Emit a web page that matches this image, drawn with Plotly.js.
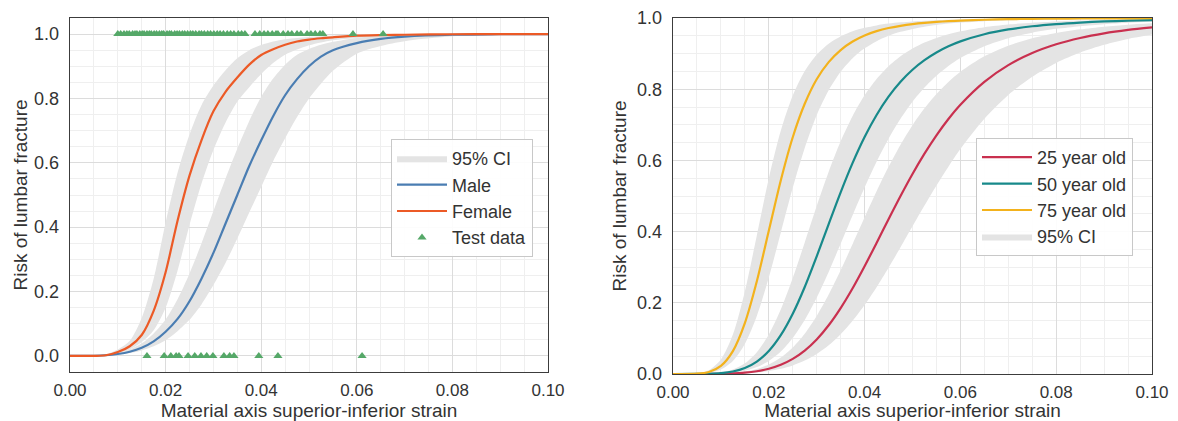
<!DOCTYPE html>
<html>
<head>
<meta charset="utf-8">
<script src="https://cdn.plot.ly/plotly-3.0.1.min.js"></script>
<style>
  html, body { margin: 0; padding: 0; background: #ffffff; }
  #chart { width: 1178px; height: 421px; }
</style>
</head>
<body>
<div id="chart"></div>
<script>
// ---------- Left panel: risk curves by sex ----------
const strainSex = [0, 0.005, 0.0075, 0.01, 0.0125, 0.015, 0.0175, 0.02, 0.0225, 0.025, 0.0275,
  0.03, 0.0325, 0.035, 0.0375, 0.04, 0.0425, 0.045, 0.0475, 0.05, 0.0525, 0.055,
  0.06, 0.065, 0.07, 0.08, 0.09, 0.1];

const maleRisk = [0, 0.0003, 0.002, 0.006, 0.013, 0.025, 0.045, 0.075, 0.115, 0.17, 0.24,
  0.32, 0.41, 0.50, 0.59, 0.67, 0.745, 0.81, 0.86, 0.90, 0.93, 0.95,
  0.972, 0.985, 0.992, 0.998, 0.9995, 1.0];
const maleUpper = [0, 0.0006, 0.004, 0.009, 0.02, 0.039, 0.07, 0.113, 0.176, 0.256, 0.349,
  0.45, 0.55, 0.644, 0.73, 0.805, 0.862, 0.905, 0.936, 0.954, 0.967, 0.976,
  0.988, 0.994, 0.997, 0.9995, 1.0, 1.0];
const maleLower = [0, 0.0002, 0.001, 0.0043, 0.009, 0.017, 0.03, 0.049, 0.077, 0.112, 0.16,
  0.22, 0.288, 0.365, 0.446, 0.525, 0.605, 0.676, 0.742, 0.80, 0.846, 0.886,
  0.939, 0.963, 0.978, 0.993, 0.998, 0.9995];

const femaleRisk = [0, 0.0002, 0.002, 0.012, 0.03, 0.065, 0.14, 0.26, 0.42, 0.56, 0.67,
  0.76, 0.82, 0.865, 0.905, 0.935, 0.953, 0.967, 0.977, 0.983, 0.987, 0.99,
  0.995, 0.997, 0.998, 0.9995, 0.9998, 1.0];
const femaleUpper = [0, 0.0006, 0.005, 0.02, 0.047, 0.118, 0.24, 0.414, 0.569, 0.688, 0.779,
  0.84, 0.887, 0.925, 0.95, 0.966, 0.977, 0.984, 0.988, 0.991, 0.9935, 0.9955,
  0.9975, 0.998, 0.999, 1.0, 1.0, 1.0];
const femaleLower = [0, 0.0001, 0.0012, 0.007, 0.02, 0.043, 0.08, 0.15, 0.265, 0.407, 0.535,
  0.64, 0.724, 0.79, 0.835, 0.876, 0.91, 0.936, 0.952, 0.965, 0.974, 0.981,
  0.988, 0.993, 0.996, 0.998, 0.999, 0.9995];

// Test specimens: strain of those that fractured (1) and those that did not (0)
const fracturedStrain = [0.0100, 0.0106, 0.0113, 0.0119, 0.0124, 0.0131, 0.0136, 0.0140, 0.0146,
  0.0151, 0.0155, 0.0161, 0.0166, 0.0170, 0.0176, 0.0181, 0.0187, 0.0192, 0.0196, 0.0203,
  0.0208, 0.0212, 0.0219, 0.0224, 0.0229, 0.0235, 0.0240, 0.0246, 0.0252, 0.0257, 0.0263,
  0.0270, 0.0275, 0.0281, 0.0288, 0.0294, 0.0301, 0.0308, 0.0314, 0.0321, 0.0329, 0.0336,
  0.0343, 0.0352, 0.0359, 0.0366,
  0.0387, 0.0397, 0.0406, 0.0414, 0.0423, 0.0431, 0.0435, 0.0446,
  0.0456, 0.0464, 0.0475, 0.0483, 0.0496, 0.0504, 0.0513, 0.0523, 0.0529,
  0.0592, 0.0655];
const intactStrain = [0.0161, 0.0197, 0.0211, 0.0222, 0.0228, 0.0247, 0.0261, 0.0274, 0.0286,
  0.0299, 0.0322, 0.0334, 0.0343, 0.0395, 0.0435, 0.0611];

// ---------- Right panel: risk curves by age ----------
const strainAge = [0, 0.005, 0.0075, 0.01, 0.0125, 0.015, 0.0175, 0.02, 0.0225, 0.025, 0.0275,
  0.03, 0.0325, 0.035, 0.0375, 0.04, 0.0425, 0.045, 0.0475, 0.05, 0.0525, 0.055, 0.0575,
  0.06, 0.065, 0.07, 0.075, 0.08, 0.085, 0.09, 0.095, 0.1];

const risk25 = [0, 0.00002, 0.0001, 0.0005, 0.0015, 0.0037, 0.0078, 0.0148, 0.026, 0.0426, 0.0659,
  0.0972, 0.137, 0.1853, 0.241, 0.3028, 0.3682, 0.4348, 0.5, 0.5619, 0.619, 0.6706, 0.7164,
  0.7564, 0.8207, 0.8676, 0.9016, 0.9261, 0.9439, 0.9569, 0.9665, 0.9737];
const upper25 = [0, 0.00003, 0.0002, 0.001, 0.0028, 0.0067, 0.014, 0.0265, 0.046, 0.0745, 0.1133,
  0.163, 0.223, 0.2915, 0.3649, 0.44, 0.5132, 0.582, 0.6441, 0.6989, 0.7462, 0.7865, 0.8204,
  0.8489, 0.8923, 0.9222, 0.9431, 0.9578, 0.9681, 0.9757, 0.9812, 0.9853];
const lower25 = [0, 0.00001, 0.00007, 0.0003, 0.0009, 0.0021, 0.0044, 0.0083, 0.0145, 0.024, 0.0376,
  0.0561, 0.0806, 0.1116, 0.1493, 0.1935, 0.2436, 0.2984, 0.3559, 0.4148, 0.4731, 0.5295, 0.5825,
  0.6318, 0.7167, 0.7837, 0.835, 0.8738, 0.9028, 0.9246, 0.941, 0.9534];

const risk50 = [0, 0.00008, 0.0006, 0.0024, 0.007, 0.0168, 0.0349, 0.0646, 0.109, 0.1693, 0.2445,
  0.3305, 0.4212, 0.5104, 0.593, 0.6658, 0.7277, 0.7791, 0.821, 0.8547, 0.8816, 0.9032, 0.9205,
  0.9344, 0.9545, 0.9678, 0.9768, 0.9829, 0.9872, 0.9903, 0.9925, 0.9941];
const upper50 = [0, 0.00015, 0.0011, 0.0043, 0.0126, 0.03, 0.0614, 0.1111, 0.1813, 0.2696, 0.3693,
  0.4718, 0.5683, 0.6536, 0.7249, 0.7828, 0.8287, 0.8646, 0.8925, 0.9141, 0.931, 0.9441, 0.9545,
  0.9627, 0.9743, 0.9819, 0.987, 0.9905, 0.9929, 0.9946, 0.9958, 0.9967];
const lower50 = [0, 0.00005, 0.0003, 0.0013, 0.0039, 0.0094, 0.0196, 0.0368, 0.0633, 0.1013, 0.1518,
  0.2143, 0.2868, 0.3656, 0.446, 0.524, 0.5963, 0.661, 0.7171, 0.7648, 0.8045, 0.8377, 0.8649,
  0.8873, 0.9206, 0.9432, 0.9587, 0.9695, 0.9771, 0.9825, 0.9865, 0.9894];

const risk75 = [0, 0.0008, 0.0057, 0.0228, 0.0644, 0.1429, 0.2604, 0.4023, 0.5438, 0.665, 0.759,
  0.828, 0.876, 0.91, 0.934, 0.951, 0.963, 0.9718, 0.9781, 0.9829, 0.9864, 0.9891, 0.9912,
  0.9928, 0.9951, 0.9966, 0.9976, 0.9982, 0.9987, 0.999, 0.9992, 0.9994];
const upper75 = [0, 0.0015, 0.0103, 0.0405, 0.1108, 0.2318, 0.389, 0.549, 0.683, 0.782, 0.851,
  0.897, 0.928, 0.948, 0.9626, 0.9723, 0.9792, 0.9842, 0.9878, 0.9905, 0.9925, 0.994, 0.9951,
  0.996, 0.9973, 0.9981, 0.9987, 0.999, 0.9993, 0.9994, 0.9996, 0.9997];
const lower75 = [0, 0.0005, 0.0032, 0.0127, 0.0367, 0.0844, 0.163, 0.271, 0.397, 0.523, 0.635,
  0.727, 0.797, 0.849, 0.887, 0.9147, 0.935, 0.95, 0.9611, 0.9694, 0.9757, 0.9805, 0.9842,
  0.9871, 0.9912, 0.9939, 0.9956, 0.9968, 0.9976, 0.9982, 0.9986, 0.9989];

const tickStrain = [0, 0.02, 0.04, 0.06, 0.08, 0.1];
const tickRisk = [0, 0.2, 0.4, 0.6, 0.8, 1.0];

// ---------- styling ----------
const BAND = '#e4e4e4';
const C_MALE = '#4a7db2', C_FEMALE = '#ec5a26', C_TEST = '#55a868';
const C_25 = '#c9304f', C_50 = '#17898a', C_75 = '#f3b21c';
const FONT = 'Liberation Sans, Arial, sans-serif';
const TXT = '#333333';

function band(x, lo, hi, xa, ya, name, showLegend, legend, rank) {
  return [
    { x: x, y: lo, xaxis: xa, yaxis: ya, type: 'scatter', mode: 'lines',
      line: { width: 0, shape: 'spline', smoothing: 0.8 }, hoverinfo: 'skip', showlegend: false },
    { x: x, y: hi, xaxis: xa, yaxis: ya, type: 'scatter', mode: 'lines', fill: 'tonexty',
      fillcolor: BAND, line: { width: 0, shape: 'spline', smoothing: 0.8 },
      name: name, showlegend: showLegend, legend: legend, legendrank: rank, hoverinfo: 'skip' }
  ];
}

function curve(x, y, xa, ya, name, color, legend, rank) {
  return { x: x, y: y, xaxis: xa, yaxis: ya, type: 'scatter', mode: 'lines', name: name,
    line: { color: color, width: 2.2, shape: 'spline', smoothing: 0.8 }, legend: legend, legendrank: rank };
}

const testX = fracturedStrain.concat(intactStrain);
const testY = fracturedStrain.map(() => 1).concat(intactStrain.map(() => 0));

const data = [].concat(
  band(strainSex, maleLower, maleUpper, 'x', 'y', '95% CI', true, 'legend', 1),
  band(strainSex, femaleLower, femaleUpper, 'x', 'y', '95% CI', false, 'legend', 1),
  [curve(strainSex, maleRisk, 'x', 'y', 'Male', C_MALE, 'legend', 2),
   curve(strainSex, femaleRisk, 'x', 'y', 'Female', C_FEMALE, 'legend', 3),
   { x: testX, y: testY, xaxis: 'x', yaxis: 'y', type: 'scatter', mode: 'markers', name: 'Test data',
     marker: { symbol: 'triangle-up', size: 8, color: C_TEST }, legend: 'legend', legendrank: 4 }],
  band(strainAge, lower75, upper75, 'x2', 'y2', '95% CI', true, 'legend2', 4),
  band(strainAge, lower50, upper50, 'x2', 'y2', '95% CI', false, 'legend2', 4),
  band(strainAge, lower25, upper25, 'x2', 'y2', '95% CI', false, 'legend2', 4),
  [curve(strainAge, risk25, 'x2', 'y2', '25 year old', C_25, 'legend2', 1),
   curve(strainAge, risk50, 'x2', 'y2', '50 year old', C_50, 'legend2', 2),
   curve(strainAge, risk75, 'x2', 'y2', '75 year old', C_75, 'legend2', 3)]
);

const W = 1178, H = 421;
function xAxis(domain, anchor) {
  return {
    domain: domain, anchor: anchor, range: [0, 0.1], tickvals: tickStrain, tickformat: '.2f',
    showgrid: true, gridcolor: '#dcdcdc', gridwidth: 1, zeroline: false,
    minor: { dtick: 0.005, tick0: 0, showgrid: true, gridcolor: '#efefef', gridwidth: 1 },
    showline: true, mirror: true, linecolor: '#3c3c3c', linewidth: 1.4,
    ticks: '', ticklabelstandoff: 2,
    tickfont: { family: FONT, size: 17, color: TXT },
    title: { text: 'Material axis superior-inferior strain', font: { family: FONT, size: 19, color: TXT }, standoff: 6 }
  };
}
function yAxis(domain, anchor, range, standoff) {
  return {
    domain: domain, anchor: anchor, range: range, tickvals: tickRisk, tickformat: '.1f',
    showgrid: true, gridcolor: '#dcdcdc', gridwidth: 1, zeroline: false,
    minor: { dtick: 0.05, tick0: 0, showgrid: true, gridcolor: '#efefef', gridwidth: 1 },
    showline: true, mirror: true, linecolor: '#3c3c3c', linewidth: 1.4,
    ticks: '', ticklabelstandoff: 6,
    tickfont: { family: FONT, size: 18, color: TXT },
    title: { text: 'Risk of lumbar fracture', font: { family: FONT, size: 19, color: TXT }, standoff: standoff }
  };
}

const legendStyle = {
  bgcolor: 'rgba(255,255,255,0.9)', bordercolor: '#c8c8c8', borderwidth: 1,
  font: { family: FONT, size: 18, color: TXT }, xanchor: 'left', yanchor: 'top',
  traceorder: 'normal', tracegroupgap: 0, itemwidth: 50
};

const layout = {
  width: W, height: H,
  margin: { l: 0, r: 0, t: 0, b: 0 },
  paper_bgcolor: '#ffffff', plot_bgcolor: '#ffffff',
  font: { family: FONT, color: TXT },
  xaxis: xAxis([70 / W, 548 / W], 'y'),
  yaxis: yAxis([1 - 372 / H, 1 - 18 / H], 'x', [-0.05, 1.05], 1),
  xaxis2: xAxis([673 / W, 1152 / W], 'y2'),
  yaxis2: yAxis([1 - 374 / H, 1 - 18 / H], 'x2', [0, 1], 5),
  legend: Object.assign({ x: 391 / W, y: 1 - 139 / H }, legendStyle),
  legend2: Object.assign({ x: 976 / W, y: 1 - 138 / H }, legendStyle),
  showlegend: true
};

Plotly.newPlot('chart', data, layout, { displayModeBar: false, staticPlot: true });
</script>
</body>
</html>
